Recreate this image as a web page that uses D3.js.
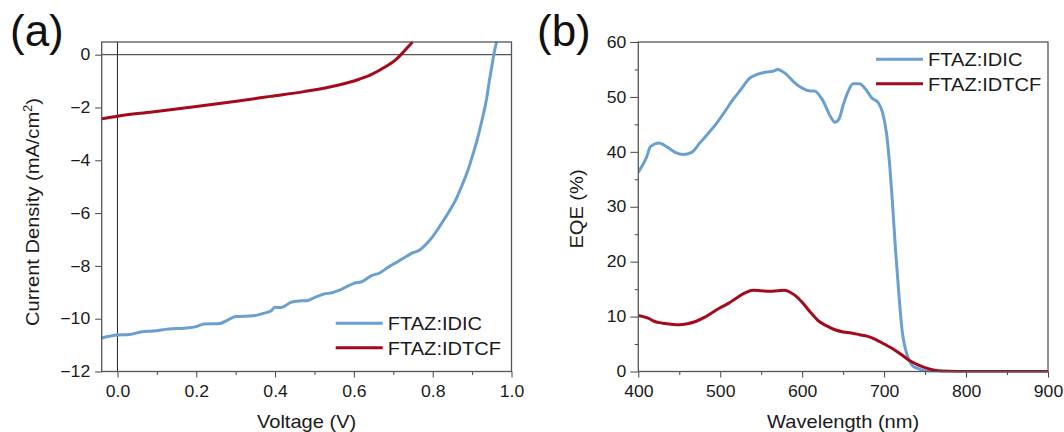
<!DOCTYPE html>
<html>
<head>
<meta charset="utf-8">
<script src="https://cdn.jsdelivr.net/npm/d3@7"></script>
<style>
  body { margin: 0; background: #fff; }
  svg { font-family: "Liberation Sans", Arial, sans-serif; }
</style>
</head>
<body>
<svg id="chart" width="1064" height="432"></svg>
<script>
// panel (a): J-V curves
var jvVoltage = [-0.04, 0, 0.03, 0.0625, 0.09, 0.13, 0.17, 0.2, 0.22, 0.26, 0.28, 0.30, 0.345, 0.37, 0.39, 0.40, 0.415, 0.44, 0.46, 0.48, 0.50, 0.525, 0.545, 0.56, 0.58, 0.6, 0.62, 0.645, 0.665, 0.687, 0.71, 0.73, 0.75, 0.765, 0.785, 0.8, 0.816, 0.84, 0.86, 0.876, 0.89, 0.90, 0.915, 0.927, 0.937, 0.944, 0.95, 0.955, 0.962];
var jvIDIC = [-10.73, -10.62, -10.6, -10.49, -10.47, -10.39, -10.36, -10.30, -10.2, -10.18, -10.05, -9.92, -9.89, -9.8, -9.70, -9.57, -9.58, -9.38, -9.33, -9.32, -9.2, -9.06, -9.02, -8.94, -8.8, -8.66, -8.60, -8.37, -8.27, -8.05, -7.85, -7.67, -7.5, -7.42, -7.15, -6.89, -6.54, -5.98, -5.45, -4.89, -4.35, -3.88, -3.1, -2.36, -1.65, -0.97, -0.45, 0, 0.48];
var jvVoltage2 = [-0.04, 0, 0.088, 0.2, 0.302, 0.388, 0.473, 0.559, 0.61, 0.645, 0.679, 0.705, 0.722, 0.739, 0.749];
var jvIDTCF = [-2.43, -2.33, -2.17, -1.96, -1.76, -1.58, -1.40, -1.16, -0.95, -0.75, -0.47, -0.21, 0.04, 0.32, 0.48];
var jvXTicks = [0, 0.2, 0.4, 0.6, 0.8, 1.0];
var jvYTicks = [0, -2, -4, -6, -8, -10, -12];

// panel (b): EQE spectra
var eqeWave1 = [400, 410, 415, 425, 435, 445, 455, 465, 475, 485, 495, 505, 515, 525, 535, 545, 555, 565, 570, 580, 590, 600, 610, 615, 625, 635, 640, 645, 650, 655, 662, 670, 677, 685, 693, 698, 703, 707, 710, 714, 718, 722, 726, 730, 735, 740, 750, 760, 780, 900];
var eqeIDIC = [36.3, 39.0, 41.0, 41.6, 40.9, 39.9, 39.5, 39.9, 41.6, 43.3, 45.1, 47.2, 49.4, 51.3, 53.3, 54.1, 54.5, 54.7, 55.0, 54.2, 52.7, 51.6, 51.1, 51.1, 49.4, 46.3, 45.4, 46.0, 48.5, 50.6, 52.4, 52.4, 51.5, 49.8, 48.9, 47.2, 43.3, 37.2, 31.1, 22.0, 14.1, 7.4, 4.1, 2.2, 1.0, 0.6, 0.15, 0.05, 0, 0];
var eqeWave2 = [400, 412, 420, 430, 440, 450, 460, 470, 480, 490, 500, 510, 520, 530, 540, 550, 560, 570, 578, 590, 600, 610, 620, 630, 640, 650, 660, 670, 680, 690, 700, 710, 720, 730, 740, 750, 760, 770, 790, 900];
var eqeIDTCF = [10.2, 9.7, 9.1, 8.8, 8.6, 8.5, 8.7, 9.1, 9.8, 10.7, 11.6, 12.4, 13.4, 14.3, 14.8, 14.7, 14.6, 14.7, 14.8, 14.0, 12.6, 10.8, 9.2, 8.3, 7.6, 7.2, 7.0, 6.7, 6.4, 5.8, 5.0, 4.2, 3.2, 2.1, 1.3, 0.7, 0.3, 0.1, 0.02, 0];
var eqeXTicks = [400, 500, 600, 700, 800, 900];
var eqeYTicks = [0, 10, 20, 30, 40, 50, 60];

var seriesNames = ['FTAZ:IDIC', 'FTAZ:IDTCF'];
var seriesColors = ['#6b9fcf', '#a50a1c'];

// the original text is a little wider than Liberation Sans
var STRETCH = 1.08;
var svg = d3.select('#chart');

function zip(xs, ys) {
  return xs.map((x, i) => ({x: x, y: ys[i]}));
}

// places a horizontally stretched text at x,y
function label(parent, x, y, size, anchor, str) {
  return parent.append('text')
    .attr('transform', 'translate(' + x + ',' + y + ') scale(' + STRETCH + ',1)')
    .attr('font-size', size).attr('fill', '#1a1a1a')
    .attr('text-anchor', anchor)
    .text(str);
}

function drawPanel(opts) {
  var g = svg.append('g');
  var x = d3.scaleLinear().domain(opts.xDomain).range([opts.left, opts.right]);
  var y = d3.scaleLinear().domain(opts.yDomain).range([opts.bottom, opts.top]);

  // minor ticks
  g.append('g')
    .attr('transform', 'translate(0,' + opts.bottom + ')')
    .call(d3.axisBottom(x).tickValues(opts.xMinor).tickSize(3.5).tickFormat(''))
    .call(a => a.select('.domain').remove())
    .selectAll('line').attr('stroke', '#444');
  if (opts.yMinor) {
    g.append('g')
      .attr('transform', 'translate(' + opts.left + ',0)')
      .call(d3.axisLeft(y).tickValues(opts.yMinor).tickSize(3.5).tickFormat(''))
      .call(a => a.select('.domain').remove())
      .selectAll('line').attr('stroke', '#444');
  }

  var xAxis = g.append('g')
    .attr('transform', 'translate(0,' + opts.bottom + ')')
    .call(d3.axisBottom(x).tickValues(opts.xTicks).tickSize(6).tickFormat(opts.xFormat));
  xAxis.select('.domain').remove();
  xAxis.selectAll('line').attr('stroke', '#444');
  xAxis.selectAll('text')
    .attr('y', 0).attr('dy', 0)
    .attr('transform', 'translate(0,' + (397 - opts.bottom) + ') scale(' + STRETCH + ',1)')
    .attr('font-size', 16.3).attr('fill', '#1a1a1a')
    .attr('font-family', 'Liberation Sans, Arial, sans-serif');

  var yAxis = g.append('g')
    .attr('transform', 'translate(' + opts.left + ',0)')
    .call(d3.axisLeft(y).tickValues(opts.yTicks).tickSize(opts.yTickLen).tickFormat(opts.yFormat));
  yAxis.select('.domain').remove();
  yAxis.selectAll('line').attr('stroke', '#444');
  yAxis.selectAll('text')
    .attr('x', 0)
    .attr('transform', 'translate(' + (-opts.yLabelGap) + ',0) scale(' + STRETCH + ',1)')
    .attr('font-size', 16.3).attr('fill', '#1a1a1a')
    .attr('font-family', 'Liberation Sans, Arial, sans-serif');

  // zero lines
  if (opts.zeroLines) {
    g.append('line')
      .attr('x1', opts.left).attr('x2', opts.right)
      .attr('y1', y(0)).attr('y2', y(0))
      .attr('stroke', '#555').attr('stroke-width', 1.3);
    g.append('line')
      .attr('x1', x(0)).attr('x2', x(0))
      .attr('y1', opts.top).attr('y2', opts.bottom)
      .attr('stroke', '#222').attr('stroke-width', 1);
  }

  var clipId = 'clip' + opts.id;
  svg.append('clipPath').attr('id', clipId)
    .append('rect')
    .attr('x', opts.left).attr('y', opts.top - 1)
    .attr('width', opts.right - opts.left).attr('height', opts.bottom - opts.top + 2);

  var line = d3.line().x(d => x(d.x)).y(d => y(d.y)).curve(opts.curve);
  opts.series.forEach((s, i) => {
    g.append('path')
      .datum(s)
      .attr('clip-path', 'url(#' + clipId + ')')
      .attr('fill', 'none')
      .attr('stroke', seriesColors[i])
      .attr('stroke-width', 3)
      .attr('stroke-linejoin', 'round')
      .attr('d', line);
  });

  // frame
  g.append('rect')
    .attr('x', opts.left).attr('y', opts.top)
    .attr('width', opts.right - opts.left).attr('height', opts.bottom - opts.top)
    .attr('fill', 'none').attr('stroke', '#555').attr('stroke-width', 1.3);

  // legend
  seriesNames.forEach((name, i) => {
    var ly = opts.legendY + i * 24.5;
    g.append('line')
      .attr('x1', opts.legendX).attr('x2', opts.legendX + 47)
      .attr('y1', ly).attr('y2', ly)
      .attr('stroke', seriesColors[i]).attr('stroke-width', 3);
    label(g, opts.legendX + 52, ly + 6.7, 18.6, 'start', name);
  });

  // axis titles
  label(g, (opts.left + opts.right) / 2, 428, 18.6, 'middle', opts.xTitle);
  var yt = g.append('text')
    .attr('transform', 'translate(' + opts.yTitleX + ',' + opts.yTitleY + ') rotate(-90) scale(' + STRETCH + ',1)')
    .attr('text-anchor', 'middle').attr('font-size', 18.6).attr('fill', '#1a1a1a');
  opts.yTitle(yt);

  g.append('text')
    .attr('x', opts.tagX).attr('y', 46)
    .attr('font-size', 44).attr('fill', '#111')
    .text(opts.tag);
}

drawPanel({
  id: 'a', tag: '(a)', tagX: 10,
  left: 101.7, right: 511.5, top: 42, bottom: 371.5,
  xDomain: [-0.04, 1.0], yDomain: [-12, 0.48],
  xTicks: jvXTicks, xMinor: [0.1, 0.3, 0.5, 0.7, 0.9],
  yTicks: jvYTicks, yMinor: null, yTickLen: 6.5, yLabelGap: 11.5,
  xFormat: d3.format('.1f'), yFormat: d3.format('d'),
  zeroLines: true,
  curve: d3.curveMonotoneX,
  series: [zip(jvVoltage, jvIDIC), zip(jvVoltage2, jvIDTCF)],
  legendX: 335.7, legendY: 323.3,
  xTitle: 'Voltage (V)', yTitleX: 39, yTitleY: 212,
  yTitle: t => {
    t.append('tspan').text('Current Density (mA/cm');
    t.append('tspan').attr('dy', -7).attr('font-size', 12).text('2');
    t.append('tspan').attr('dy', 7).text(')');
  }
});

drawPanel({
  id: 'b', tag: '(b)', tagX: 537,
  left: 638.3, right: 1048, top: 42, bottom: 371.5,
  xDomain: [400, 900], yDomain: [0, 60],
  xTicks: eqeXTicks, xMinor: [450, 550, 650, 750, 850],
  yTicks: eqeYTicks, yMinor: [5, 15, 25, 35, 45, 55], yTickLen: 8, yLabelGap: 12,
  xFormat: d3.format('d'), yFormat: d3.format('d'),
  zeroLines: false,
  curve: d3.curveMonotoneX,
  series: [zip(eqeWave1, eqeIDIC), zip(eqeWave2, eqeIDTCF)],
  legendX: 876, legendY: 59.3,
  xTitle: 'Wavelength (nm)', yTitleX: 583, yTitleY: 209,
  yTitle: t => t.text('EQE (%)')
});
</script>
</body>
</html>
